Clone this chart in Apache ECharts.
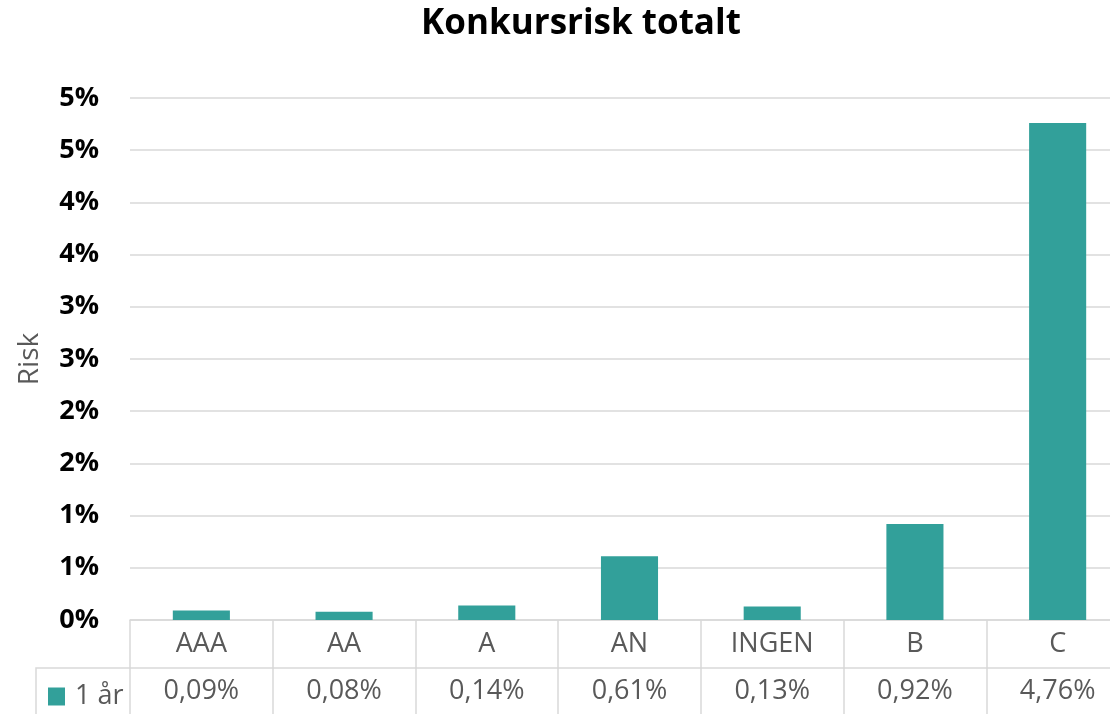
<!DOCTYPE html>
<html>
<head>
<meta charset="utf-8">
<script src="https://cdn.jsdelivr.net/npm/echarts@6/dist/echarts.min.js"></script>
<style>
  html, body { margin: 0; padding: 0; background: #fff; }
  #main { width: 1110px; height: 714px; }
</style>
</head>
<body>
<div id="main"></div>
<script>
// chart data
const categories = ['AAA', 'AA', 'A', 'AN', 'INGEN', 'B', 'C'];
const seriesName = '1 år';
const riskValues = [0.09, 0.08, 0.14, 0.61, 0.13, 0.92, 4.76];
const yTickLabels = ['0%', '1%', '1%', '2%', '2%', '3%', '3%', '4%', '4%', '5%', '5%'];

const font = '"Open Sans", sans-serif';
const gridColor = '#d9d9d9';
const textGray = '#595959';

let tableLabels = riskValues.map(function (v) {
    return v.toFixed(2).replace('.', ',') + '%';
});

let option = {
    animation: false,
    textStyle: { fontFamily: font },
    title: {
        text: 'Konkursrisk totalt',
        left: 576,
        textAlign: 'center',
        top: 2,
        textStyle: { fontSize: 35, fontWeight: 'bold', color: '#000', fontFamily: font }
    },
    legend: {
        left: 43,
        top: 678,
        icon: 'rect',
        itemWidth: 17,
        itemHeight: 18,
        itemGap: 6,
        selectedMode: false,
        textStyle: { fontSize: 27, color: textGray, fontFamily: font, padding: [0, 0, 0, 5] },
        data: [seriesName]
    },
    grid: {
        left: 130,
        width: 999,
        top: 98,
        bottom: 94,
        outerBoundsMode: 'none',
        containLabel: false
    },
    xAxis: [{
        type: 'category',
        data: categories,
        position: 'bottom',
        axisLine: { lineStyle: { color: gridColor, width: 1.5 } },
        axisTick: { show: true, length: 48, lineStyle: { color: gridColor, width: 1.5 } },
        axisLabel: { fontSize: 27, color: textGray, margin: 11, fontFamily: font }
    }, {
        type: 'category',
        data: tableLabels,
        position: 'bottom',
        offset: 48,
        axisLine: { lineStyle: { color: gridColor, width: 1.5 } },
        axisTick: { show: true, length: 48, lineStyle: { color: gridColor, width: 1.5 } },
        axisLabel: { fontSize: 27, color: textGray, margin: 10, fontFamily: font }
    }],
    yAxis: {
        type: 'value',
        min: 0,
        max: 5,
        interval: 0.5,
        name: 'Risk',
        nameLocation: 'middle',
        nameRotate: 90,
        nameGap: 86,
        nameTextStyle: { fontSize: 28, color: textGray, fontFamily: font },
        axisLine: { show: false },
        axisTick: { show: false },
        splitLine: { lineStyle: { color: gridColor, width: 1.5 } },
        axisLabel: {
            fontSize: 27,
            fontWeight: 'bold',
            color: '#000',
            margin: 31,
            fontFamily: font,
            formatter: function (v) {
                return yTickLabels[Math.round(v / 0.5)];
            }
        }
    },
    graphic: [{
        type: 'polyline',
        shape: { points: [[36, 714], [36, 668], [130, 668]] },
        style: { stroke: gridColor, lineWidth: 1.5, fill: null }
    }],
    series: [{
        name: seriesName,
        type: 'bar',
        xAxisIndex: 0,
        data: riskValues,
        barCategoryGap: '60%',
        itemStyle: { color: '#32a09a' }
    }]
};

let myChart = echarts.init(document.getElementById('main'));
myChart.setOption(option);
</script>
</body>
</html>
